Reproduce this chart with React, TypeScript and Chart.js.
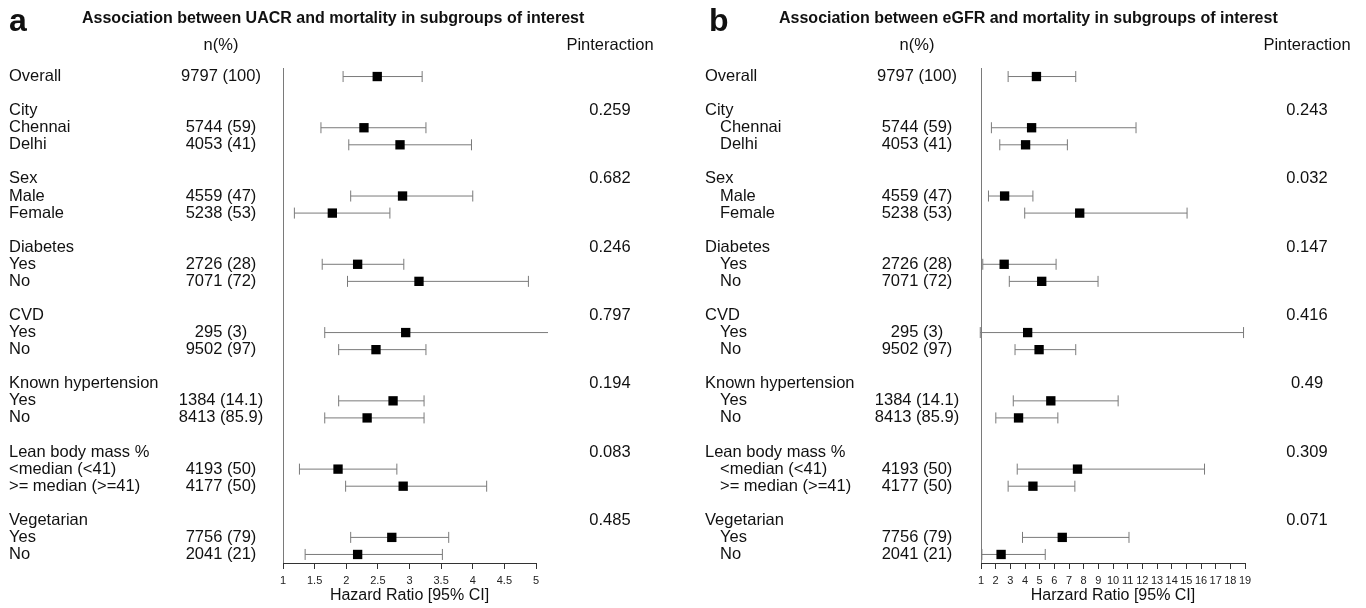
import React, { useEffect, useRef } from 'react';
import { Chart, registerables } from 'chart.js';

Chart.register(...registerables);
Chart.defaults.font.family = '"Liberation Sans", Arial, Helvetica, sans-serif';

// ---- rows (29 rows, blanks separate groups) ----
const rowLabels = [
  'Overall', '',
  'City', 'Chennai', 'Delhi', '',
  'Sex', 'Male', 'Female', '',
  'Diabetes', 'Yes', 'No', '',
  'CVD', 'Yes', 'No', '',
  'Known hypertension', 'Yes', 'No', '',
  'Lean body mass %', '<median (<41)', '>= median (>=41)', '',
  'Vegetarian', 'Yes', 'No',
];
const headerRows = [2, 6, 10, 14, 18, 22, 26];
const dataRows = [0, 3, 4, 7, 8, 11, 12, 15, 16, 19, 20, 23, 24, 27, 28];
const nCounts = [
  '9797 (100)', '5744 (59)', '4053 (41)', '4559 (47)', '5238 (53)',
  '2726 (28)', '7071 (72)', '295 (3)', '9502 (97)', '1384 (14.1)',
  '8413 (85.9)', '4193 (50)', '4177 (50)', '7756 (79)', '2041 (21)',
];

// ---- panel a: UACR ----
const uacrHR = [2.49, 2.28, 2.85, 2.89, 1.78, 2.18, 3.15, 2.94, 2.47, 2.74, 2.33, 1.87, 2.90, 2.72, 2.18];
const uacrLow = [1.95, 1.60, 2.04, 2.07, 1.18, 1.62, 2.02, 1.66, 1.88, 1.88, 1.66, 1.26, 1.99, 2.07, 1.35];
const uacrHigh = [3.20, 3.26, 3.98, 4.00, 2.69, 2.91, 4.88, 5.19, 3.26, 3.23, 3.23, 2.80, 4.22, 3.62, 3.52];
const uacrP = ['0.259', '0.682', '0.246', '0.797', '0.194', '0.083', '0.485'];
const uacrTicks = [1, 1.5, 2, 2.5, 3, 3.5, 4, 4.5, 5];

// ---- panel b: eGFR ----
const egfrHR = [4.78, 4.45, 4.04, 2.61, 7.73, 2.58, 5.14, 4.18, 4.96, 5.76, 3.56, 7.58, 4.54, 6.54, 2.37];
const egfrLow = [2.85, 1.71, 2.28, 1.51, 3.98, 1.12, 2.93, 0.95, 3.32, 3.20, 2.01, 3.47, 2.85, 3.83, 1.06];
const egfrHigh = [7.46, 11.57, 6.89, 4.54, 15.05, 6.12, 8.98, 18.9, 7.46, 10.35, 6.24, 16.24, 7.40, 11.09, 5.38];
const egfrP = ['0.243', '0.032', '0.147', '0.416', '0.49', '0.309', '0.071'];
const egfrTicks = [1, 2, 3, 4, 5, 6, 7, 8, 9, 10, 11, 12, 13, 14, 15, 16, 17, 18, 19];

const FONT = '"Liberation Sans", Arial, Helvetica, sans-serif';
const GREY = '#7a7a7a';

type Panel = {
  letter: string; title: string; axisTitle: string;
  hr: number[]; low: number[]; high: number[]; p: string[]; ticks: number[];
  xMin: number; xMax: number; padLeft: number; padRight: number;
  letterX: number; titleX: number; nX: number; pX: number; labelX: number; subX: number;
};

const panels: Panel[] = [
  {
    letter: 'a', title: 'Association between UACR and mortality in subgroups of interest',
    axisTitle: 'Hazard Ratio [95% CI]', hr: uacrHR, low: uacrLow, high: uacrHigh, p: uacrP,
    ticks: uacrTicks, xMin: 1, xMax: 5, padLeft: 283, padRight: 147,
    letterX: 9, titleX: 82, nX: 221, pX: 610, labelX: 9, subX: 9,
  },
  {
    letter: 'b', title: 'Association between eGFR and mortality in subgroups of interest',
    axisTitle: 'Harzard Ratio [95% CI]', hr: egfrHR, low: egfrLow, high: egfrHigh, p: egfrP,
    ticks: egfrTicks, xMin: 1, xMax: 19, padLeft: 298, padRight: 121,
    letterX: 26, titleX: 96, nX: 234, pX: 624, labelX: 22, subX: 37,
  },
];

function textPlugin(cfg: Panel) {
  return {
    id: 'forestText',
    afterDraw(chart: any) {
      const ctx = chart.ctx as CanvasRenderingContext2D;
      const ys = chart.scales.y;
      ctx.save();
      ctx.fillStyle = '#111';
      ctx.textBaseline = 'alphabetic';
      ctx.textAlign = 'left';
      ctx.font = `bold 32px ${FONT}`;
      ctx.fillText(cfg.letter, cfg.letterX, 31);
      ctx.font = `bold 16px ${FONT}`;
      ctx.fillText(cfg.title, cfg.titleX, 23);

      ctx.font = `16.5px ${FONT}`;
      ctx.textBaseline = 'middle';
      ctx.textAlign = 'center';
      ctx.fillText('n(%)', cfg.nX, 45);
      ctx.fillText('Pinteraction', cfg.pX, 45);

      rowLabels.forEach((lab, i) => {
        if (!lab) return;
        const isSub = i !== 0 && headerRows.indexOf(i) < 0;
        ctx.textAlign = 'left';
        ctx.fillText(lab, isSub ? cfg.subX : cfg.labelX, ys.getPixelForValue(i));
      });
      ctx.textAlign = 'center';
      dataRows.forEach((r, k) => {
        ctx.fillText(nCounts[k], cfg.nX, ys.getPixelForValue(r));
      });
      headerRows.forEach((r, k) => {
        ctx.fillText(cfg.p[k], cfg.pX, ys.getPixelForValue(r));
      });
      ctx.restore();
    },
  };
}

function ForestPanel({ cfg }: { cfg: Panel }) {
  const ref = useRef<HTMLCanvasElement | null>(null);
  useEffect(() => {
    if (!ref.current) return;
    const squares = {
      type: 'scatter',
      data: dataRows.map((r, k) => ({ x: cfg.hr[k], y: r })),
      pointStyle: 'rect',
      pointRadius: 6.6,
      backgroundColor: '#000',
      borderColor: '#000',
      borderWidth: 0,
      clip: false,
    };
    const caps = {
      type: 'scatter',
      data: dataRows.flatMap((r, k) => [{ x: cfg.low[k], y: r }, { x: cfg.high[k], y: r }]),
      pointStyle: 'line',
      rotation: 90,
      pointRadius: 5.5,
      borderColor: GREY,
      borderWidth: 1,
      clip: false,
    };
    const lines = dataRows.map((r, k) => ({
      type: 'scatter',
      data: [{ x: cfg.low[k], y: r }, { x: cfg.high[k], y: r }],
      showLine: true,
      pointRadius: 0,
      borderColor: GREY,
      borderWidth: 1,
      clip: false,
    }));
    const chart = new Chart(ref.current, {
      type: 'scatter',
      data: { datasets: [squares, caps, ...lines] as any },
      options: {
        animation: false,
        responsive: false,
        events: [],
        layout: { padding: { left: cfg.padLeft, right: cfg.padRight, top: 68, bottom: 0 } },
        plugins: { legend: { display: false }, tooltip: { enabled: false } },
        scales: {
          x: {
            type: 'linear',
            min: cfg.xMin,
            max: cfg.xMax,
            afterBuildTicks: (s: any) => { s.ticks = cfg.ticks.map((v) => ({ value: v })); },
            afterFit: (s: any) => { s.height = 45; },
            ticks: {
              autoSkip: false, maxRotation: 0, minRotation: 0,
              font: { size: 11 }, color: '#222', padding: 5,
              callback: (v: any) => String(v),
            },
            grid: {
              drawOnChartArea: true,
              color: (c: any) => (c.tick && c.tick.value === 1 ? GREY : 'rgba(0,0,0,0)'),
              tickColor: '#333',
              tickLength: 6,
            },
            border: { display: true, color: '#333', width: 1 },
            title: {
              display: true, text: cfg.axisTitle, color: '#111',
              font: { size: 16 }, padding: { top: 0, bottom: 3 },
            },
          },
          y: { type: 'linear', reverse: true, min: -0.5, max: 28.5, display: false },
        },
      } as any,
      plugins: [textPlugin(cfg)],
    });
    return () => chart.destroy();
  }, [cfg]);
  return <canvas ref={ref} width={683} height={608} style={{ display: 'block', width: 683, height: 608 }} />;
}

export default function App() {
  return (
    <div style={{ position: 'absolute', left: 0, top: 0, width: 1366, height: 608, display: 'flex', background: '#fff' }}>
      <ForestPanel cfg={panels[0]} />
      <ForestPanel cfg={panels[1]} />
    </div>
  );
}
